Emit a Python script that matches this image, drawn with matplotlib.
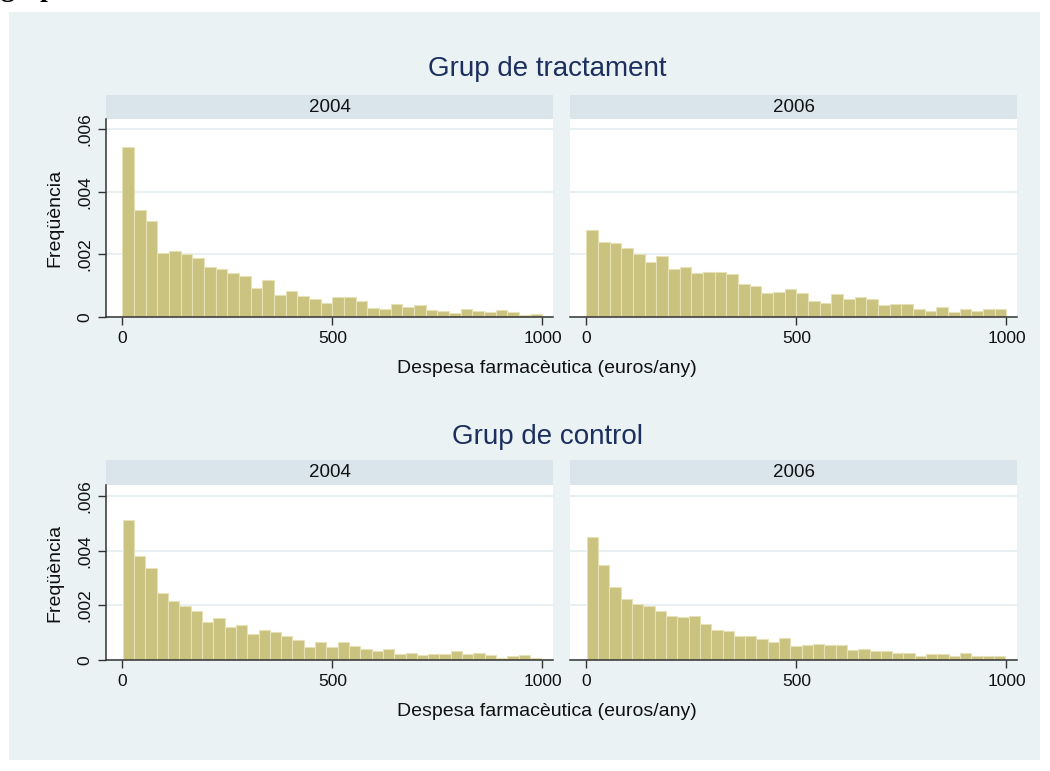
import numpy as np
import matplotlib.pyplot as plt
from matplotlib.patches import Rectangle

plt.rcParams['font.family'] = ['Liberation Sans', 'DejaVu Sans']

W, H = 1050, 771

# histogram densities (units of 1/1000)
tract_2004 = [5.42, 3.43, 3.06, 2.06, 2.10, 2.00, 1.89, 1.60, 1.54, 1.40, 1.31, 0.94,
              1.19, 0.70, 0.82, 0.68, 0.57, 0.45, 0.65, 0.63, 0.51, 0.30, 0.27, 0.41,
              0.33, 0.39, 0.22, 0.18, 0.12, 0.25, 0.20, 0.16, 0.22, 0.16, 0.07, 0.11]
tract_2006 = [2.79, 2.39, 2.35, 2.19, 2.00, 1.76, 1.95, 1.55, 1.60, 1.41, 1.45, 1.44,
              1.39, 1.07, 1.00, 0.78, 0.80, 0.88, 0.78, 0.50, 0.44, 0.72, 0.58, 0.63,
              0.58, 0.39, 0.43, 0.43, 0.27, 0.20, 0.33, 0.16, 0.27, 0.20, 0.27, 0.27]
control_2004 = [5.12, 3.79, 3.35, 2.45, 2.17, 1.99, 1.80, 1.38, 1.55, 1.22, 1.27, 0.94,
                1.09, 1.02, 0.88, 0.72, 0.49, 0.65, 0.46, 0.65, 0.50, 0.39, 0.32, 0.41,
                0.22, 0.24, 0.18, 0.21, 0.23, 0.32, 0.22, 0.26, 0.18, 0.09, 0.13, 0.17,
                0.09]
control_2006 = [4.51, 3.46, 2.68, 2.24, 2.05, 1.99, 1.78, 1.61, 1.56, 1.61, 1.33, 1.09,
                1.05, 0.87, 0.87, 0.76, 0.67, 0.82, 0.50, 0.56, 0.57, 0.54, 0.54, 0.35,
                0.41, 0.34, 0.32, 0.24, 0.24, 0.13, 0.21, 0.21, 0.16, 0.24, 0.16, 0.16,
                0.16]

tract_edges = np.linspace(0, 1000, len(tract_2004) + 1)
control_edges = np.linspace(1, 997, len(control_2004) + 1)

years = ['2004', '2006']
group_titles = ['Grup de tractament', 'Grup de control']
xlabel = 'Despesa farmacèutica (euros/any)'
ylabel = 'Freqüència'
xticks = [0, 500, 1000]
yticks = [0, 0.002, 0.004, 0.006]
ytick_labels = ['0', '.002', '.004', '.006']

BG = '#eaf2f3'
STRIP = '#d9e5ea'
BAR = '#cac27f'
BAR_EDGE = '#e6e1b6'
GRID = '#e4eef1'
AXIS = '#333333'
TITLE = '#1c2f5e'


def px_axes(fig, x0, y0, x1, y1):
    return fig.add_axes([x0 / W, 1 - y1 / H, (x1 - x0) / W, (y1 - y0) / H])


fig = plt.figure(figsize=(W / 100, H / 100), dpi=100, facecolor='white')
fig.patches.append(Rectangle((9 / W, 1 - 760 / H), (1040 - 9) / W, (760 - 12) / H,
                             transform=fig.transFigure, facecolor=BG, edgecolor='none', zorder=-10))

# heading cut off at the top of the page, only its lower part shows
fig.text(0.0, 1 + 4 / H, 'graph', family='Liberation Serif', weight='bold', fontsize=20,
         va='baseline', ha='left', color='black')

# pixel layout: strip top, plot top, plot bottom, title baseline, xlabel baseline
rows = [
    dict(strip=95, top=119, bottom=317, title=76, xlab=373, data=(tract_2004, tract_2006),
         edges=tract_edges, ymax=0.00633),
    dict(strip=460, top=485, bottom=660, title=444, xlab=716, data=(control_2004, control_2006),
         edges=control_edges, ymax=0.0064),
]
cols = [(106, 553), (570, 1017)]

for r, row in enumerate(rows):
    for c, (x0, x1) in enumerate(cols):
        sax = px_axes(fig, x0, row['strip'], x1, row['top'])
        sax.set_facecolor(STRIP)
        sax.set_xticks([])
        sax.set_yticks([])
        for s in sax.spines.values():
            s.set_visible(False)
        sax.text(0.5, 0.5, years[c], transform=sax.transAxes, ha='center', va='center',
                 fontsize=13.5, color='#111111')

        ax = px_axes(fig, x0, row['top'], x1, row['bottom'])
        ax.set_facecolor('white')
        edges = row['edges']
        vals = np.array(row['data'][c]) / 1000
        ax.bar(edges[:-1], vals, width=np.diff(edges), align='edge', color=BAR,
               edgecolor=BAR_EDGE, linewidth=0.8, zorder=2)
        ax.set_xlim(-39, 1025)
        ax.set_ylim(0, row['ymax'])
        ax.set_yticks(yticks)
        ax.yaxis.grid(True, color=GRID, linewidth=1.2, zorder=0)
        ax.set_axisbelow(True)
        ax.set_xticks(xticks)
        ax.set_xticklabels([str(t) for t in xticks])
        for s in ['top', 'right']:
            ax.spines[s].set_visible(False)
        ax.spines['bottom'].set_color(AXIS)
        ax.spines['bottom'].set_linewidth(1.1)
        ax.tick_params(axis='x', length=6, width=1, color=AXIS, labelsize=12.5, pad=4,
                       labelcolor='#111111')
        if c == 0:
            ax.spines['left'].set_color(AXIS)
            ax.spines['left'].set_linewidth(1.1)
            ax.set_yticklabels(ytick_labels, rotation=90, va='center')
            ax.tick_params(axis='y', length=6, width=1, color=AXIS, labelsize=12.5, pad=4,
                           labelcolor='#111111')
        else:
            ax.spines['left'].set_visible(False)
            ax.tick_params(axis='y', length=0, labelleft=False)

    fig.text(547 / W, 1 - row['title'] / H, group_titles[r], ha='center', va='baseline',
             fontsize=20, color=TITLE)
    fig.text(547 / W, 1 - row['xlab'] / H, xlabel, ha='center', va='baseline',
             fontsize=14, color='#111111')
    fig.text(55 / W, 1 - (row['top'] + row['bottom']) / 2 / H, ylabel, rotation=90,
             ha='center', va='center', fontsize=14, color='#111111')

fig.savefig('out.png', dpi=100, facecolor='white')
